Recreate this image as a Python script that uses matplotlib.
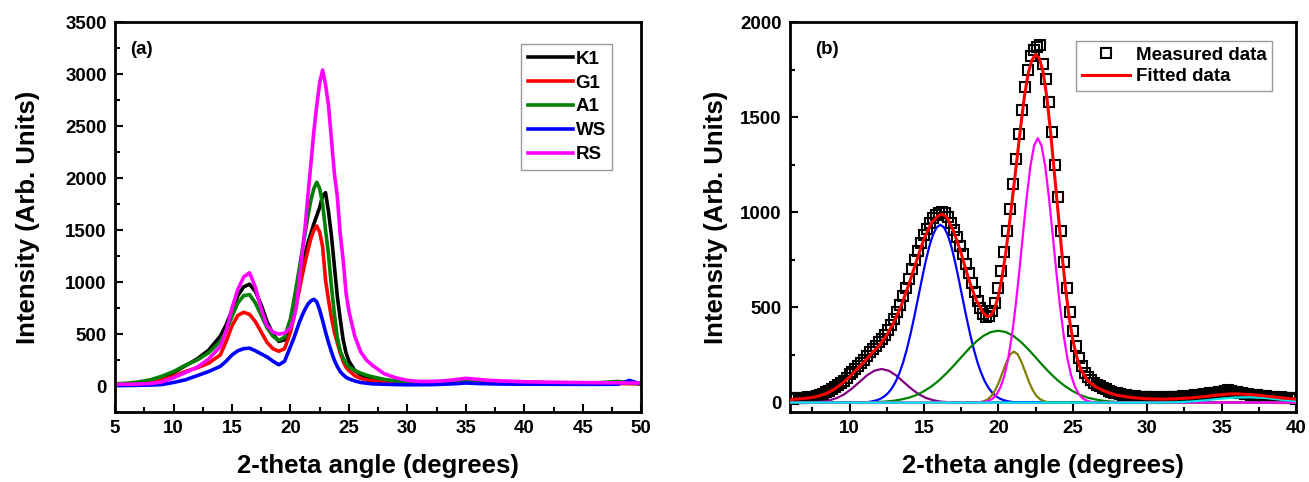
import numpy as np
import matplotlib
matplotlib.use("Agg")
import matplotlib.pyplot as plt
from matplotlib.ticker import MultipleLocator
from matplotlib.legend_handler import HandlerLine2D

plt.rcParams['font.family'] = ['Liberation Sans', 'DejaVu Sans']
plt.rcParams['font.weight'] = 'bold'

# ---------------- Panel (a) data ----------------
a_x = [5, 6, 7, 8, 9, 10, 11, 12, 13, 14, 14.5, 15, 15.5, 16, 16.5, 17, 17.5, 18, 18.5, 19,
       19.5, 20, 20.25, 20.5, 20.75, 21, 21.25, 21.5, 21.75, 22, 22.25, 22.5, 22.75, 23, 23.25,
       23.5, 23.75, 24, 24.25, 24.5, 24.75, 25, 25.5, 26, 26.5, 27, 28, 29, 30, 31, 32, 33, 34,
       35, 36, 37, 38, 40, 42, 44, 46, 48, 49, 50]
k1 = [20, 22, 28, 45, 80, 130, 195, 260, 345, 480, 590, 730, 870, 955, 980, 910, 780, 620, 500, 430,
      445, 600, 730, 870, 1010, 1150, 1270, 1380, 1470, 1560, 1640, 1720, 1830, 1860, 1680,
      1450, 1160, 870, 650, 450, 320, 240, 150, 110, 85, 70, 55, 45, 38, 35, 35, 38, 45,
      55, 50, 45, 40, 35, 32, 30, 28, 28, 27, 25]
g1 = [15, 18, 22, 35, 60, 95, 140, 175, 220, 300, 430, 580, 680, 710, 690, 620, 520, 420, 360, 335,
      360, 520, 640, 780, 920, 1060, 1190, 1310, 1420, 1500, 1540, 1480, 1340, 1020, 830,
      660, 520, 420, 320, 240, 180, 150, 100, 75, 60, 50, 40, 35, 30, 28, 28, 30, 35,
      42, 40, 36, 33, 30, 28, 26, 25, 25, 24, 22]
a1 = [22, 28, 40, 60, 95, 140, 200, 250, 320, 430, 530, 670, 800, 870, 880, 800, 680, 560, 480, 440,
      470, 650, 800, 960, 1130, 1300, 1470, 1640, 1790, 1900, 1960, 1900, 1750, 1500, 1270,
      960, 700, 470, 340, 270, 220, 185, 150, 125, 105, 90, 65, 50, 40, 38, 38, 42, 50,
      58, 52, 45, 40, 35, 32, 30, 30, 45, 30, 25]
ws = [5, 6, 8, 10, 15, 35, 60, 100, 140, 190, 240, 300, 340, 360, 365, 340, 310, 280, 240, 205,
      240, 380, 450, 530, 610, 680, 740, 790, 820, 835, 810, 730, 630, 520, 420,
      330, 250, 190, 140, 110, 85, 70, 50, 35, 28, 22, 18, 15, 13, 13, 14, 18, 22,
      30, 25, 22, 20, 18, 18, 17, 17, 18, 55, 18]
rs = [18, 18, 20, 25, 40, 80, 130, 180, 260, 380, 530, 750, 930, 1050, 1090, 950, 740, 580, 520, 500,
      510, 560, 640, 760, 1010, 1270, 1530, 1840, 2140, 2450, 2700, 2920, 3040, 2900, 2700,
      2380, 2050, 1830, 1470, 1220, 900, 720, 480, 330, 250, 200, 120, 80, 55, 45, 45, 50, 60,
      75, 65, 55, 50, 42, 38, 35, 33, 32, 30, 30]
a_names = ['K1', 'G1', 'A1', 'WS', 'RS']
a_colors = ['#000000', '#ff0000', '#008000', '#0000ff', '#ff00ff']

# ---------------- Panel (b) data ----------------
meas_x = np.round(np.arange(6.0, 40.001, 0.2), 1)
meas_y = [22, 20, 24, 22, 25, 26, 28, 27, 32, 36,
          40, 46, 55, 62, 72, 82, 92, 105, 116, 130,
          148, 160, 176, 192, 210, 225, 245, 265, 282, 300,
          318, 336, 358, 382, 410, 440, 475, 515, 560, 605,
          650, 700, 750, 795, 840, 880, 915, 945, 968, 985,
          998, 1003, 995, 975, 945, 910, 870, 825, 780, 730,
          680, 630, 580, 535, 495, 468, 450, 455, 480, 525,
          600, 690, 790, 900, 1020, 1150, 1280, 1410, 1540, 1660,
          1750, 1820, 1855, 1870, 1878, 1780, 1700, 1580, 1420, 1250,
          1080, 900, 740, 600, 475, 375, 295, 235, 190, 158,
          135, 118, 105, 95, 86, 78, 70, 63, 57, 52,
          48, 45, 42, 38, 36, 35, 33, 30, 30, 28,
          27, 28, 26, 27, 25, 28, 26, 27, 29, 28,
          30, 29, 33, 32, 35, 36, 38, 40, 42, 45,
          44, 48, 50, 52, 55, 58, 62, 64, 60, 58,
          55, 52, 50, 47, 44, 42, 40, 38, 36, 35,
          33, 30, 32, 28, 26, 27, 25, 24, 26, 22, 20]

fit_x = [6.0, 7.0, 7.5, 8.0, 8.5, 9.0, 9.5, 10.0, 10.5, 11.0, 11.5, 12.0, 12.5, 13.0, 13.5,
         14.0, 14.5, 15.0, 15.5, 16.0, 16.25, 16.5, 17.0, 17.5, 18.0, 18.5, 19.0, 19.25,
         19.5, 19.75, 20.0, 20.25, 20.5, 20.75, 21.0, 21.25, 21.5, 21.75, 22.0, 22.25,
         22.5, 22.75, 23.0, 23.25, 23.5, 23.75, 24.0, 24.25, 24.5, 24.75, 25.0, 25.25,
         25.5, 26.0, 26.5, 27.0, 27.5, 28.0, 29.0, 30.0, 31.0, 32.0, 33.0, 34.0, 35.0,
         35.5, 36.0, 37.0, 38.0, 39.0, 40.0]
fit_y = [16, 22, 27, 36, 50, 72, 100, 135, 175, 215, 260, 300, 355, 425, 515,
         625, 745, 860, 945, 985, 990, 978, 900, 785, 650, 540, 470, 452,
         458, 495, 560, 660, 790, 945, 1110, 1280, 1450, 1610, 1730, 1800,
         1830, 1810, 1740, 1610, 1430, 1220, 1010, 800, 610, 450, 330, 245,
         180, 115, 85, 65, 50, 38, 26, 20, 18, 20, 25, 33, 42,
         45, 46, 42, 34, 25, 18]

purple_x = [6, 7.15, 7.65, 8.15, 8.65, 9.15, 9.65, 10.15, 10.65, 11.15, 11.65, 12.15, 12.65,
            13.15, 13.65, 14.15, 14.65, 15.15, 15.65, 16.15, 16.65, 17.15, 40]
purple_y = [0, 1, 2, 5, 12, 24, 44, 73, 107, 142, 167, 177, 167,
            142, 107, 73, 44, 24, 12, 5, 2, 1, 0]

blue_x = [6, 11.1, 11.35, 11.6, 11.85, 12.1, 12.35, 12.6, 12.85, 13.1, 13.35, 13.6, 13.85,
          14.1, 14.35, 14.6, 14.85, 15.1, 15.35, 15.6, 15.85, 16.1, 16.35, 16.6, 16.85,
          17.1, 17.35, 17.6, 17.85, 18.1, 18.35, 18.6, 18.85, 19.1, 19.35, 19.6, 19.85,
          20.1, 20.35, 20.6, 20.85, 21.1, 40]
blue_y = [0, 2, 4, 8, 13, 21, 33, 51, 76, 110, 155, 211, 280,
          361, 451, 547, 644, 737, 818, 881, 921, 935, 921, 881, 818,
          737, 644, 547, 451, 361, 280, 211, 155, 110, 76, 51, 33,
          21, 13, 8, 4, 2, 0]

green_x = [6, 11, 11.5, 12, 12.5, 13, 13.5, 14, 14.5, 15, 15.5, 16, 16.5, 17, 17.5, 18, 18.5,
           19, 19.5, 20, 20.5, 21, 21.5, 22, 22.5, 23, 23.5, 24, 24.5, 25, 25.5, 26, 26.5,
           27, 27.5, 28, 28.5, 29, 40]
green_y = [0, 1, 2, 3, 6, 10, 17, 26, 40, 60, 85, 116, 153, 194, 238, 281, 320,
           351, 371, 378, 371, 351, 320, 281, 238, 194, 153, 116, 85, 60, 40, 26, 17,
           10, 6, 3, 2, 1, 0]

olive_x = [6, 18.55, 18.8, 19.05, 19.3, 19.55, 19.8, 20.05, 20.3, 20.55, 20.8, 21.05, 21.3,
           21.55, 21.8, 22.05, 22.3, 22.55, 22.8, 23.05, 23.3, 23.55, 40]
olive_y = [0, 1, 3, 8, 18, 36, 67, 110, 163, 214, 254, 268, 254,
           214, 163, 110, 67, 36, 18, 8, 3, 1, 0]

magenta_x = [6, 18.65, 18.9, 19.15, 19.4, 19.65, 19.9, 20.15, 20.4, 20.65, 20.9, 21.15, 21.4,
             21.65, 21.9, 22.15, 22.4, 22.65, 22.9, 23.15, 23.4, 23.65, 23.9, 24.15, 24.4,
             24.65, 24.9, 25.15, 25.4, 25.65, 25.9, 26.15, 26.4, 26.65, 40]
magenta_y = [0, 1, 2, 5, 12, 23, 45, 82, 140, 227, 347, 501, 684,
             883, 1077, 1241, 1351, 1390, 1351, 1241, 1077, 883, 684, 501, 347,
             227, 140, 82, 45, 23, 12, 5, 2, 1, 0]

cyan_x = [6, 31, 32, 33, 34, 35, 36, 37, 38, 39, 40]
cyan_y = [0, 0, 2, 6, 13, 21, 27, 28, 24, 15, 7]


class LeftMarkerHandler(HandlerLine2D):
    """Legend handler that places the single marker near the left of the handle."""
    def get_xdata(self, legend, xdescent, ydescent, width, height, fontsize):
        xdata, _ = super().get_xdata(legend, xdescent, ydescent, width, height, fontsize)
        return xdata, np.array([-xdescent + 0.17 * width])


# ---------------- Figure ----------------
fig = plt.figure(figsize=(13.09, 4.82), dpi=100)
axA = fig.add_axes([0.0879, 0.145, 0.402, 0.809])
axB = fig.add_axes([0.6035, 0.145, 0.3866, 0.809])

for s, name, c in zip([k1, g1, a1, ws, rs], a_names, a_colors):
    axA.plot(a_x, s, color=c, lw=2.6, label=name)

axA.set_xlim(5, 50)
axA.set_ylim(-250, 3500)
axA.xaxis.set_major_locator(MultipleLocator(5))
axA.xaxis.set_minor_locator(MultipleLocator(2.5))
axA.yaxis.set_major_locator(MultipleLocator(500))
axA.yaxis.set_minor_locator(MultipleLocator(250))
axA.text(0.028, 0.93, '(a)', transform=axA.transAxes, fontsize=13.5, fontweight='bold',
         va='center', ha='left')
legA = axA.legend(loc='upper right', bbox_to_anchor=(0.945, 0.944), borderaxespad=0,
                  fontsize=13.5, handlelength=2.4, handletextpad=0.15, labelspacing=0.36,
                  frameon=True, fancybox=False, borderpad=0.35)
legA.get_frame().set_edgecolor('#808080')
legA.get_frame().set_linewidth(1.0)

# panel b
meas_line, = axB.plot(meas_x, meas_y, linestyle='none', marker='s', ms=7.5, mfc='none',
                      mec='black', mew=1.5, label='Measured data', zorder=2)
comp = [(purple_x, purple_y, '#800080'), (blue_x, blue_y, '#0000ff'),
        (green_x, green_y, '#008000'), (olive_x, olive_y, '#808000'),
        (magenta_x, magenta_y, '#ff00ff'), (cyan_x, cyan_y, '#00e5ee')]
for xs, ys, c in comp:
    axB.plot(xs, ys, color=c, lw=1.6, zorder=3)
fit_line, = axB.plot(fit_x, fit_y, color='#ff0000', lw=2.2, label='Fitted data', zorder=4)

axB.set_xlim(6, 40)
axB.set_ylim(-50, 2000)
axB.xaxis.set_major_locator(MultipleLocator(5))
axB.xaxis.set_minor_locator(MultipleLocator(2.5))
axB.yaxis.set_major_locator(MultipleLocator(500))
axB.yaxis.set_minor_locator(MultipleLocator(250))
axB.text(0.05, 0.93, '(b)', transform=axB.transAxes, fontsize=13.5, fontweight='bold',
         va='center', ha='left')
legB = axB.legend(handles=[meas_line, fit_line], loc='upper right',
                  bbox_to_anchor=(0.953, 0.951), borderaxespad=0,
                  fontsize=13.5, handlelength=2.6, handletextpad=0.3, labelspacing=0.22,
                  numpoints=1, frameon=True, fancybox=False, borderpad=0.3,
                  handler_map={meas_line: LeftMarkerHandler(numpoints=1)})
legB.get_frame().set_edgecolor('#808080')
legB.get_frame().set_linewidth(1.0)

for ax, lp in ((axA, 18), (axB, 9)):
    ax.set_xlabel('2-theta angle (degrees)', fontsize=18.5, fontweight='bold', labelpad=12)
    ax.set_ylabel('Intensity (Arb. Units)', fontsize=18.5, fontweight='bold', labelpad=lp)
    for sp in ax.spines.values():
        sp.set_linewidth(2.0)
    ax.tick_params(which='both', direction='in', top=False, right=False, width=1.5)
    ax.tick_params(which='major', length=6, labelsize=13.5, pad=6)
    ax.tick_params(which='minor', length=3.5)
    for lab in ax.get_xticklabels() + ax.get_yticklabels():
        lab.set_fontweight('bold')

fig.savefig('out.png', dpi=100)
